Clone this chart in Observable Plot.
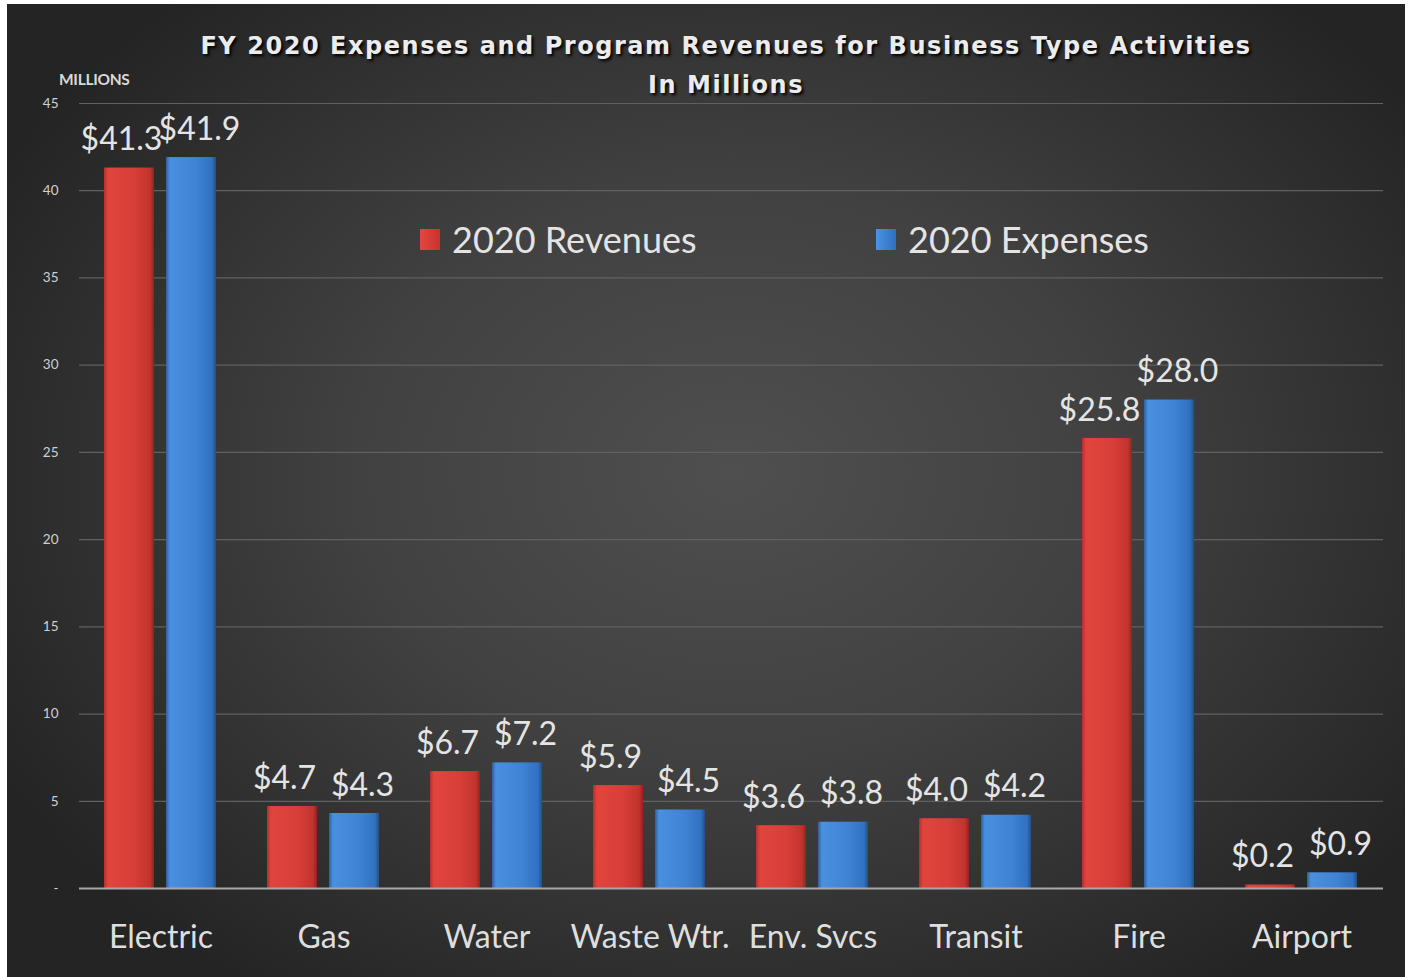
<!DOCTYPE html>
<html>
<head>
<meta charset="utf-8">
<script src="https://cdn.jsdelivr.net/npm/d3@7"></script>
<script src="https://cdn.jsdelivr.net/npm/@observablehq/plot@0.6"></script>
<style>
  html, body { margin:0; padding:0; background:#ffffff; }
  #wrap { position:relative; width:1408px; height:977px; overflow:hidden; }
  #bg { position:absolute; left:7px; top:4px; width:1398px; height:973px;
        background: radial-gradient(ellipse 60% 65% at 52% 48%, #4f4f4f 0%, #414141 45%, #2c2c2c 85%, #242424 100%); }
  #chart { position:absolute; left:0; top:0; }
  .title { position:absolute; left:22px; width:1408px; text-align:center; font-family:"DejaVu Sans", sans-serif;
           font-weight:bold; font-size:24px; letter-spacing:1.55px; color:#ececec; text-shadow:2px 2px 3px #000; }
  #units { position:absolute; left:59px; top:70px; font-family:Lato, sans-serif; font-weight:bold; font-size:15.5px; color:#d8d8d8; letter-spacing:-0.3px; }
  .leg { position:absolute; top:217px; font-family:Lato, sans-serif; font-size:36px; color:#e4e4e4; display:flex; align-items:center; }
  .sw { width:20px; height:21px; margin-right:12px; }
</style>
</head>
<body>
<div id="wrap">
  <div id="bg"></div>
  <div id="chart"></div>
  <div class="title" style="top:32px">FY 2020 Expenses and Program Revenues for Business Type Activities</div>
  <div class="title" style="top:71px">In Millions</div>
  <div id="units">MILLIONS</div>
  <div class="leg" style="left:420px"><div class="sw" style="background:linear-gradient(90deg,#e6463f,#c8322d)"></div>2020 Revenues</div>
  <div class="leg" style="left:876px"><div class="sw" style="background:linear-gradient(90deg,#4c93e3,#2f6fc0)"></div>2020 Expenses</div>
</div>
<script>
const categories = ["Electric", "Gas", "Water", "Waste Wtr.", "Env. Svcs", "Transit", "Fire", "Airport"];
const seriesNames = ["2020 Revenues", "2020 Expenses"];
const revenues = [41.3, 4.7, 6.7, 5.9, 3.6, 4.0, 25.8, 0.2];
const expenses = [41.9, 4.3, 7.2, 4.5, 3.8, 4.2, 28.0, 0.9];
const yTicks = [0, 5, 10, 15, 20, 25, 30, 35, 40, 45];

const data = [];
categories.forEach((c, i) => {
  data.push({category: c, series: seriesNames[0], value: revenues[i]});
  data.push({category: c, series: seriesNames[1], value: expenses[i]});
});
const revData = data.filter(d => d.series === seriesNames[0]);
const expData = data.filter(d => d.series === seriesNames[1]);
const labelOpts = {fx: "category", x: "series", y: "value", text: d => "$" + d.value.toFixed(1), fontSize: 32, fill: "#e4e4e4"};

const chart = Plot.plot({
  width: 1408,
  height: 977,
  marginLeft: 78,
  marginRight: 25,
  marginTop: 103,
  marginBottom: 89,
  style: {background: "transparent", color: "#d6d6d6", fontFamily: "Lato, sans-serif"},
  fx: {domain: categories, padding: 0, label: null, axis: null},
  x: {domain: seriesNames, paddingInner: 0.1935, paddingOuter: 0.411, axis: null},
  y: {domain: [0, 45], axis: null},
  color: {domain: seriesNames, range: ["url(#gradRed)", "url(#gradBlue)"]},
  marks: [
    Plot.ruleY(yTicks.filter(d => d > 0), {stroke: "#606060", strokeWidth: 1.2}),
    Plot.barY(data, {fx: "category", x: "series", y: "value", fill: "series"}),
    Plot.ruleY([0], {stroke: "#a8a8a8", strokeWidth: 2}),
    Plot.text(revData, {...labelOpts, dy: -28, dx: -8}),
    Plot.text(expData, {...labelOpts, dy: -28, dx: 8}),
    Plot.axisY({ticks: yTicks, tickSize: 0, tickPadding: 21, fontSize: 13.5, fill: "#d0d0d0",
      tickFormat: d => d === 0 ? "-" : String(d), label: null}),
    Plot.axisFx({anchor: "bottom", tickSize: 0, tickPadding: 37, fontSize: 32, fill: "#dedede", label: null})
  ]
});

const svg = chart.tagName.toLowerCase() === "svg" ? chart : chart.querySelector("svg");
const ns = "http://www.w3.org/2000/svg";
const defs = document.createElementNS(ns, "defs");
function grad(id, stops) {
  const g = document.createElementNS(ns, "linearGradient");
  g.setAttribute("id", id);
  g.setAttribute("x1", "0"); g.setAttribute("x2", "1"); g.setAttribute("y1", "0"); g.setAttribute("y2", "0");
  stops.forEach(([o, c]) => {
    const s = document.createElementNS(ns, "stop");
    s.setAttribute("offset", o); s.setAttribute("stop-color", c);
    g.appendChild(s);
  });
  defs.appendChild(g);
}
grad("gradRed", [["0", "#b3302b"], ["0.08", "#e0443d"], ["0.6", "#d83f39"], ["0.92", "#c2332e"], ["1", "#8f2420"]]);
grad("gradBlue", [["0", "#2d5f9f"], ["0.08", "#4a90e0"], ["0.6", "#3f83d4"], ["0.92", "#3171c0"], ["1", "#244f86"]]);
svg.insertBefore(defs, svg.firstChild);
document.getElementById("chart").appendChild(chart);
</script>
</body>
</html>
